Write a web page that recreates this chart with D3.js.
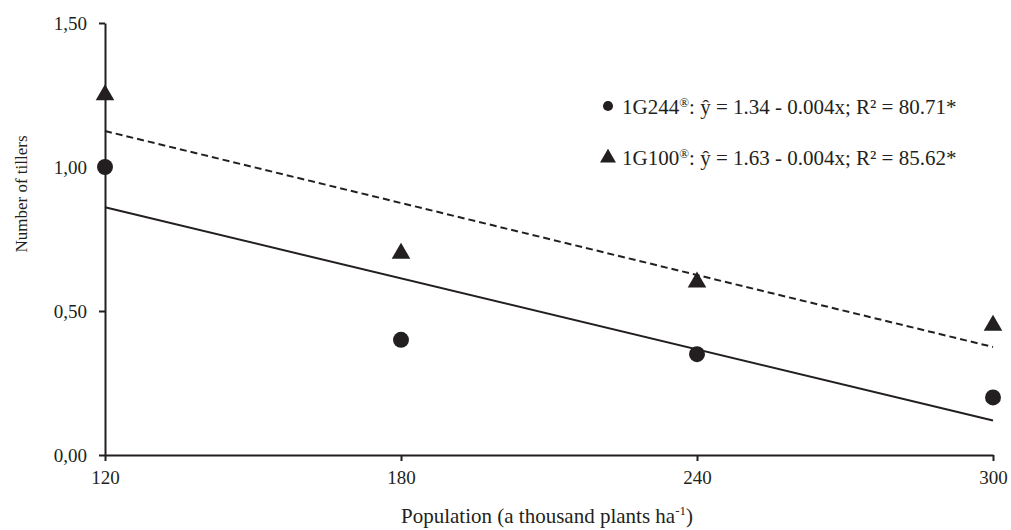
<!DOCTYPE html>
<html>
<head>
<meta charset="utf-8">
<script src="https://cdn.jsdelivr.net/npm/d3@7"></script>
<style>
  body { margin: 0; background: #fff; }
  svg text { font-family: "Liberation Serif", "Times New Roman", serif; fill: #231f20; }
</style>
</head>
<body>
<div id="chart"></div>
<script>
// data
var populations = [120, 180, 240, 300];
var tillers1G244 = [1.00, 0.40, 0.35, 0.20];
var tillers1G100 = [1.25, 0.70, 0.60, 0.45];
// fitted lines as drawn (value at 120 and at 300)
var fitX = [120, 300];
var fit1G244 = [0.86, 0.12];
var fit1G100 = [1.125, 0.375];
var yTicks = [0, 0.5, 1.0, 1.5];
var legendLabels = [
  "1G244\u00AE: \u0177 = 1.34 - 0.004x; R\u00B2 = 80.71*",
  "1G100\u00AE: \u0177 = 1.63 - 0.004x; R\u00B2 = 85.62*"
];

var wdim = 1011, hdim = 530;
var margin = {top: 23, right: 18, bottom: 75, left: 105};
var ink = "#231f20";

var svg = d3.select("#chart").append("svg")
  .attr("width", wdim)
  .attr("height", hdim);

var x = d3.scaleLinear().domain([120, 300]).range([margin.left, wdim - margin.right]);
var y = d3.scaleLinear().domain([0, 1.5]).range([hdim - margin.bottom, margin.top]);

var fmt = function(d){ return d3.format(".2f")(d).replace(".", ","); };

// axes
var xAxis = svg.append("g")
  .attr("transform", "translate(0," + y(0) + ")")
  .call(d3.axisBottom(x).tickValues(populations).tickSize(6).tickSizeOuter(0).tickPadding(10));
var yAxis = svg.append("g")
  .attr("transform", "translate(" + x(120) + ",0)")
  .call(d3.axisLeft(y).tickValues(yTicks).tickFormat(fmt).tickSize(6).tickSizeOuter(0).tickPadding(12));

[xAxis, yAxis].forEach(function(g){
  g.select(".domain").attr("stroke", ink).attr("stroke-width", 2);
  g.selectAll(".tick line").attr("stroke", ink).attr("stroke-width", 2);
  g.selectAll(".tick text").style("font-size", "19px").attr("fill", ink)
    .style("font-family", "Liberation Serif, serif");
});

// axis titles
var xt = svg.append("text")
  .attr("x", 547)
  .attr("y", 523)
  .attr("text-anchor", "middle")
  .style("font-size", "21px");
xt.append("tspan").text("Population (a thousand plants ha");
xt.append("tspan").attr("dy", -8).style("font-size", "13px").text("-1");
xt.append("tspan").attr("dy", 8).text(")");

svg.append("text")
  .attr("transform", "translate(27,194) rotate(-90)")
  .attr("text-anchor", "middle")
  .style("font-size", "17px")
  .text("Number of tillers");

// regression lines
var line = d3.line().x(function(d){ return x(d[0]); }).y(function(d){ return y(d[1]); });

svg.append("path")
  .datum(d3.zip(fitX, fit1G244))
  .attr("d", line)
  .attr("fill", "none")
  .attr("stroke", ink)
  .attr("stroke-width", 2);

svg.append("path")
  .datum(d3.zip(fitX, fit1G100))
  .attr("d", line)
  .attr("fill", "none")
  .attr("stroke", ink)
  .attr("stroke-width", 2)
  .attr("stroke-dasharray", "7,4");

// markers
var circleSym = d3.symbol().type(d3.symbolCircle).size(200);
var triSym = d3.symbol().type(d3.symbolTriangle).size(150);

svg.selectAll(".pt244")
  .data(d3.zip(populations, tillers1G244))
  .enter().append("path")
  .attr("class", "pt244")
  .attr("d", circleSym)
  .attr("transform", function(d){ return "translate(" + x(d[0]) + "," + y(d[1]) + ")"; })
  .attr("fill", ink);

svg.selectAll(".pt100")
  .data(d3.zip(populations, tillers1G100))
  .enter().append("path")
  .attr("class", "pt100")
  .attr("d", triSym)
  .attr("transform", function(d){ return "translate(" + x(d[0]) + "," + y(d[1]) + ")"; })
  .attr("fill", ink);

// legend
var leg = svg.append("g").attr("transform", "translate(608,0)");
var legRows = [106, 157];

leg.append("path")
  .attr("d", d3.symbol().type(d3.symbolCircle).size(80))
  .attr("transform", "translate(0," + legRows[0] + ")")
  .attr("fill", ink);
leg.append("path")
  .attr("d", d3.symbol().type(d3.symbolTriangle).size(110))
  .attr("transform", "translate(0," + (legRows[1] + 1) + ")")
  .attr("fill", ink);

legendLabels.forEach(function(lbl, i){
  var t = leg.append("text")
    .attr("x", 14)
    .attr("y", legRows[i] + 8)
    .style("font-size", "21px");
  var parts = lbl.split("\u00AE");
  t.append("tspan").text(parts[0]);
  t.append("tspan").attr("dy", -7).style("font-size", "13px").text("\u00AE");
  t.append("tspan").attr("dy", 7).text(parts[1]);
});
</script>
</body>
</html>
